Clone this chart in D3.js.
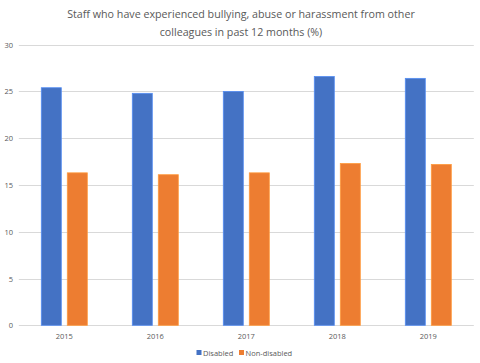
<!DOCTYPE html>
<html><head><meta charset="utf-8">
<script src="https://cdn.jsdelivr.net/npm/d3@7"></script>
<style>body{margin:0;background:#fff}svg{display:block}</style>
</head><body>
<svg id="c" width="480" height="363"></svg>
<script>
const years = ["2015","2016","2017","2018","2019"];
const seriesNames = ["Disabled","Non-disabled"];
const disabled = [25.4, 24.8, 25.0, 26.6, 26.4];
const nonDisabled = [16.3, 16.1, 16.3, 17.3, 17.2];
const yTicks = [0,5,10,15,20,25,30];
const colors = ["#4472C4","#ED7D31"];
const titleLines = ["Staff who have experienced bullying, abuse or harassment from other","colleagues in past 12 months (%)"];

const svg = d3.select("#c");
const font = "'Open Sans', 'Liberation Sans', sans-serif";
const L = 18.8, R = 473.8, T = 44.7, B = 325.3;
const x = d3.scaleBand().domain(years).range([L,R]).paddingInner(0).paddingOuter(0);
const y = d3.scaleLinear().domain([0,30]).range([B,T]);
const bw = 20, gap = 6;

// gridlines
svg.append("g").selectAll("line").data(yTicks).join("line")
  .attr("x1",L).attr("x2",R)
  .attr("y1",d=>Math.round(y(d))+0.5).attr("y2",d=>Math.round(y(d))+0.5)
  .attr("stroke","#d9d9d9").attr("stroke-width",1);

// y labels
svg.append("g").selectAll("text").data(yTicks).join("text")
  .attr("x",13).attr("y",d=>y(d)+3).attr("text-anchor","end")
  .attr("font-family",font).attr("font-size",7.5).attr("fill","#595959").text(d=>d);

// bars
const series = [disabled, nonDisabled];
series.forEach((vals,si)=>{
  svg.append("g").selectAll("rect").data(vals).join("rect")
    .attr("x",(d,i)=>x(years[i]) + x.bandwidth()/2 - (bw*2+gap)/2 + si*(bw+gap))
    .attr("y",d=>y(d)).attr("width",bw).attr("height",d=>B-y(d))
    .attr("fill",colors[si]).attr("stroke",d3.color(colors[si]).brighter(0.6)).attr("stroke-width",0.8);
});

// x labels
svg.append("g").selectAll("text").data(years).join("text")
  .attr("x",d=>x(d)+x.bandwidth()/2).attr("y",339).attr("text-anchor","middle")
  .attr("font-family",font).attr("font-size",7.5).attr("fill","#595959").text(d=>d);

// title
const tg = svg.append("g");
titleLines.forEach((t,i)=>{
  tg.append("text").attr("x",241).attr("y",18+i*18).attr("text-anchor","middle")
    .attr("font-family",font).attr("font-size",12.5).attr("fill","#595959").text(t);
});
const t0 = tg.select("text").node();
const w = t0.getComputedTextLength();
const fs = 12.5*348/w;
tg.selectAll("text").attr("font-size",fs);

// legend
const lg = svg.append("g");
const legX = [196.5, 239];
seriesNames.forEach((n,i)=>{
  lg.append("rect").attr("x",legX[i]).attr("y",350).attr("width",5).attr("height",5).attr("fill",colors[i]);
  lg.append("text").attr("x",legX[i]+6.5).attr("y",355.5).attr("font-family",font).attr("font-size",7.5)
    .attr("fill","#595959").text(n);
});
</script>
</body></html>
